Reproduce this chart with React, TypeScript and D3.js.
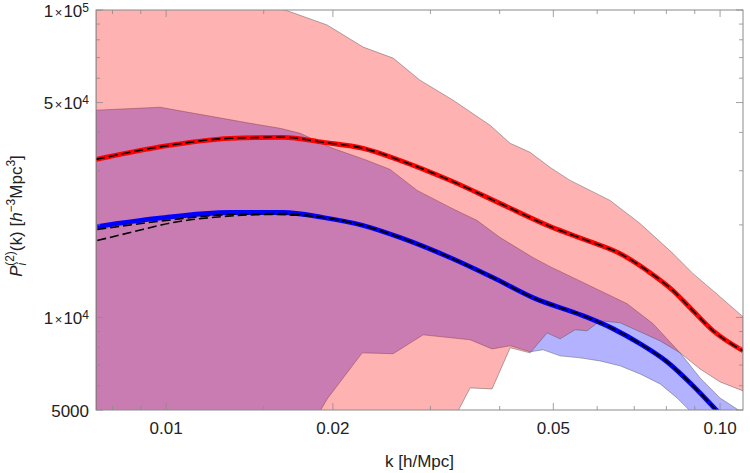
import React from "react";
import * as d3 from "d3";

type Pt = [number, number]; // [k in h/Mpc, P in h^-3 Mpc^3]

// red band (upper / lower edge)
const redUpper: Pt[] = [
  [0.00747, 114500], [0.01152, 111900], [0.0164, 100000], [0.01953, 89360],
  [0.02268, 75750], [0.02569, 69750], [0.02873, 59100], [0.03297, 50880],
  [0.03844, 42170], [0.04179, 36850], [0.0454, 34430], [0.04934, 30760],
  [0.05361, 27910], [0.0633, 24020], [0.07172, 20200], [0.08226, 16130],
  [0.0894, 13880], [0.09714, 12220], [0.11, 10050],
];
const redLower: Pt[] = [
  [0.00747, 3000], [0.03123, 4435], [0.03366, 4970], [0.03538, 5900],
  [0.03876, 5855], [0.04179, 7970], [0.0454, 7670], [0.04873, 8910],
  [0.05143, 8520], [0.05474, 9120], [0.05754, 9050], [0.06073, 9750],
  [0.06599, 9610], [0.07172, 8980], [0.07794, 8390], [0.08468, 7670],
  [0.09203, 6800], [0.1, 6170], [0.11, 5770],
];

// blue band (upper / lower edge)
const blueUpper: Pt[] = [
  [0.00747, 47210], [0.00975, 48270], [0.01418, 42800], [0.01606, 41230],
  [0.01746, 39720], [0.01977, 35750], [0.02306, 32420], [0.02537, 30300],
  [0.02839, 25890], [0.03256, 22790], [0.03642, 20670], [0.04008, 18190],
  [0.04598, 15650], [0.04934, 14630], [0.05429, 13470], [0.06073, 12220],
  [0.06796, 11080], [0.07569, 9540], [0.08468, 7670], [0.09203, 6360],
  [0.1, 5470], [0.11, 4890],
];
const blueLower: Pt[] = [
  [0.00747, 3000], [0.01746, 4113], [0.01897, 4970], [0.01953, 5430],
  [0.02259, 7670], [0.02569, 7620], [0.02911, 8780], [0.03538, 8460],
  [0.03876, 7900], [0.04179, 8090], [0.0454, 7730], [0.04791, 7850],
  [0.05143, 7500], [0.05588, 7390], [0.06073, 7220], [0.06599, 6960],
  [0.07172, 6550], [0.07794, 6080], [0.08365, 5470], [0.08828, 4965],
  [0.11, 3170],
];

// measured spectra
const redCurve: Pt[] = [
  [0.00747, 32670], [0.00963, 35750], [0.01305, 38250], [0.01626, 38550],
  [0.0192, 37120], [0.02268, 35480], [0.02645, 32420], [0.03256, 27910],
  [0.04008, 23480], [0.04934, 19760], [0.05754, 17790], [0.06599, 16130],
  [0.07385, 14200], [0.08226, 12220], [0.08828, 10750], [0.09714, 9050],
  [0.11, 7790],
];
const blueCurve: Pt[] = [
  [0.00751, 19760], [0.00963, 20990], [0.01305, 21950], [0.01626, 21950],
  [0.0192, 21140], [0.02268, 19910], [0.02645, 18190], [0.03256, 15650],
  [0.03893, 13470], [0.04598, 11590], [0.05658, 10130], [0.0641, 9190],
  [0.07172, 8210], [0.08024, 7170], [0.0894, 5990], [0.09877, 4965],
  [0.11, 4052],
];

// model predictions (dashed)
const redModel: Pt[] = redCurve;
const blueModelA: Pt[] = [
  [0.00751, 19320], [0.00963, 20510], [0.01305, 21620], [0.01626, 21780],
  ...blueCurve.slice(4),
];
const blueModelB: Pt[] = [
  [0.00751, 17790], [0.00861, 18890], [0.0103, 20360], [0.01267, 21300],
  [0.0156, 21620], ...blueCurve.slice(4),
];

const xMajor = [0.01, 0.02, 0.05, 0.1];
const xMajorLabels = ["0.01", "0.02", "0.05", "0.10"];
const xMinor = [0.008, 0.009, 0.015, 0.03, 0.04, 0.06, 0.07, 0.08, 0.09];
const yMajor = [5000, 10000, 50000, 100000];
const yMajorLabels: [string, string][] = [["5000", ""], ["1", "4"], ["5", "4"], ["1", "5"]];
const yMinor = [6000, 7000, 8000, 9000, 20000, 30000, 40000, 60000, 70000, 80000, 90000];

const W = 750;
const H = 473;
const plot = { left: 96, right: 743, top: 10, bottom: 410 };
const font = "'Liberation Sans', Arial, sans-serif";
const frameColor = "#8a8a8a";

export default function App() {
  const x = d3.scaleLog().domain([0.00747, 0.11]).range([plot.left, plot.right]);
  const y = d3.scaleLog().domain([5000, 100000]).range([plot.bottom, plot.top]);

  const poly = d3.line<Pt>().x((d) => x(d[0])).y((d) => y(d[1]));
  const smooth = d3
    .line<Pt>()
    .x((d) => x(d[0]))
    .y((d) => y(d[1]))
    .curve(d3.curveMonotoneX);

  const band = (hi: Pt[], lo: Pt[]) => poly([...hi, ...lo.slice().reverse()]) + "Z";

  const majorLen = 7;
  const minorLen = 4;

  return (
    <svg
      width={W}
      height={H}
      style={{ position: "absolute", left: 0, top: 0, background: "#fff" }}
      fontFamily={font}
    >
      <defs>
        <clipPath id="plotClip">
          <rect x={plot.left} y={plot.top} width={plot.right - plot.left} height={plot.bottom - plot.top} />
        </clipPath>
      </defs>

      <g clipPath="url(#plotClip)">
        <path d={band(blueUpper, blueLower)} fill="#0000ff" fillOpacity={0.3} stroke="#444" strokeOpacity={0.7} strokeWidth={0.6} />
        <path d={band(redUpper, redLower)} fill="#ff0000" fillOpacity={0.3} stroke="#444" strokeOpacity={0.7} strokeWidth={0.6} />

        <path d={smooth(redCurve) ?? ""} fill="none" stroke="#ff0000" strokeWidth={4.8} strokeLinejoin="round" />
        <path d={smooth(blueCurve) ?? ""} fill="none" stroke="#0000ff" strokeWidth={4.8} strokeLinejoin="round" />

        {[redModel, blueModelA, blueModelB].map((m, i) => (
          <path key={i} d={smooth(m) ?? ""} fill="none" stroke="#000" strokeWidth={1.6} strokeDasharray="9,4" />
        ))}
      </g>

      {/* frame */}
      <rect
        x={plot.left}
        y={plot.top}
        width={plot.right - plot.left}
        height={plot.bottom - plot.top}
        fill="none"
        stroke={frameColor}
        strokeWidth={1}
      />

      {/* ticks on all four sides */}
      <g stroke={frameColor} strokeWidth={0.8}>
        {xMajor.map((v) => (
          <g key={"xM" + v}>
            <line x1={x(v)} x2={x(v)} y1={plot.bottom} y2={plot.bottom - majorLen} />
            <line x1={x(v)} x2={x(v)} y1={plot.top} y2={plot.top + majorLen} />
          </g>
        ))}
        {xMinor.map((v) => (
          <g key={"xm" + v}>
            <line x1={x(v)} x2={x(v)} y1={plot.bottom} y2={plot.bottom - minorLen} />
            <line x1={x(v)} x2={x(v)} y1={plot.top} y2={plot.top + minorLen} />
          </g>
        ))}
        {yMajor.map((v) => (
          <g key={"yM" + v}>
            <line x1={plot.left} x2={plot.left + majorLen} y1={y(v)} y2={y(v)} />
            <line x1={plot.right} x2={plot.right - majorLen} y1={y(v)} y2={y(v)} />
          </g>
        ))}
        {yMinor.map((v) => (
          <g key={"ym" + v}>
            <line x1={plot.left} x2={plot.left + minorLen} y1={y(v)} y2={y(v)} />
            <line x1={plot.right} x2={plot.right - minorLen} y1={y(v)} y2={y(v)} />
          </g>
        ))}
      </g>

      {/* tick labels */}
      <g fontSize={17} fill="#222">
        {xMajor.map((v, i) => (
          <text key={"xl" + v} x={x(v)} y={434} textAnchor="middle">
            {xMajorLabels[i]}
          </text>
        ))}
        {yMajor.map((v, i) => {
          const [mant, exp] = yMajorLabels[i];
          return (
            <text key={"yl" + v} x={89} y={y(v) + 6.5} textAnchor="end">
              {exp === "" ? (
                mant
              ) : (
                <>
                  <tspan>{mant}</tspan>
                  <tspan fontSize={13} dx={1.5}>×</tspan>
                  <tspan dx={1}>10</tspan>
                  <tspan fontSize={12} dy={-5}>{exp}</tspan>
                </>
              )}
            </text>
          );
        })}
      </g>

      {/* axis titles */}
      <text x={(plot.left + plot.right) / 2} y={467} textAnchor="middle" fontSize={17} fill="#222">
        k [h/Mpc]
      </text>
      <text transform="translate(22,216) rotate(-90)" textAnchor="middle" fontSize={17} fill="#222">
        <tspan fontStyle="italic">P</tspan>
        <tspan fontSize={12} fontStyle="italic" dy={4}>i</tspan>
        <tspan fontSize={12} dx={-3} dy={-12}>(2)</tspan>
        <tspan dy={8}>(k) [</tspan>
        <tspan fontStyle="italic">h</tspan>
        <tspan fontSize={12} dy={-7}>−3</tspan>
        <tspan dy={7}>Mpc</tspan>
        <tspan fontSize={12} dy={-7}>3</tspan>
        <tspan dy={7}>]</tspan>
      </text>
    </svg>
  );
}
